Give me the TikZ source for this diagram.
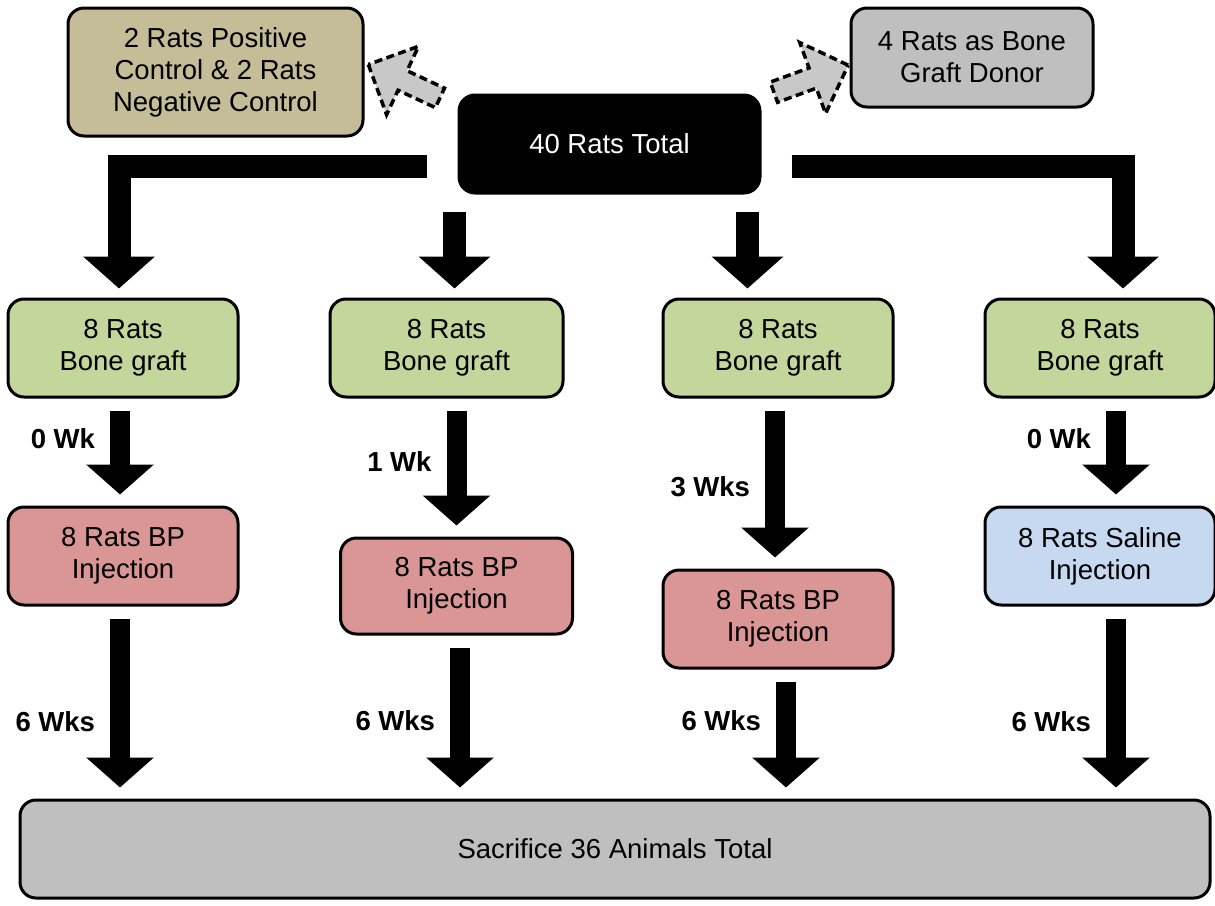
\documentclass[tikz,border=0pt]{standalone}
\usepackage{fontspec}
\setmainfont{Liberation Sans}
\usepackage{tikz}
\usetikzlibrary{arrows.meta,shapes,positioning}
\usepackage{xcolor}
\definecolor{rattan}{HTML}{C4BD97}
\definecolor{ratgrey}{HTML}{BFBFBF}
\definecolor{ratgreen}{HTML}{C3D69B}
\definecolor{ratred}{HTML}{D99694}
\definecolor{ratblue}{HTML}{C6D9F1}
\definecolor{ratdash}{HTML}{C8C8C8}
\tikzstyle{ratbox} = [rectangle, rounded corners=16pt, draw=black, line width=3pt, align=center, inner sep=0pt, minimum width=230pt, minimum height=98pt, font=\fontsize{27.5}{32}\selectfont]
\tikzstyle{fat} = [line width=20pt, -{Triangle[width=66pt,length=30pt]}, shorten <=12pt, shorten >=11pt]
\tikzstyle{fattop} = [fat, line width=23pt, -{Triangle[width=70pt,length=32pt]}, line join=miter, shorten <=0pt, shorten >=9pt]
\tikzstyle{wk} = [font=\fontsize{27.5}{32}\selectfont\bfseries, anchor=east, inner sep=0pt, xshift=-15pt]
\tikzstyle{dasharrow} = [single arrow, draw=black, dash pattern=on 8pt off 4.5pt, line width=3.5pt, fill=ratdash, minimum height=79pt, inner sep=0pt, inner ysep=9pt, single arrow head extend=27pt]

\begin{document}
\begin{tikzpicture}[x=1pt, y=-1pt]
    \useasboundingbox (0,0) rectangle (1215,905);

    % Top row
    \node[ratbox, fill=black, text=white, minimum width=301pt, text depth=-10pt] (total) at (609.5,144) {40 Rats Total};
    \node[ratbox, fill=rattan, minimum width=295pt, minimum height=128pt] (ctrl) at (215.5,72) {2 Rats Positive\\Control \& 2 Rats\\Negative Control};
    \node[ratbox, fill=ratgrey, minimum width=242pt, minimum height=99pt] (donor) at (972,57.5) {4 Rats as Bone\\Graft Donor};
    \node[dasharrow, rotate=155] (toctrl) at (409,83.5) {};
    \node[dasharrow, rotate=20] (todonor) at (806,80.5) {};

    % Bone graft row
    \node[ratbox, fill=ratgreen] (g1) at (123,348) {8 Rats\\Bone graft};
    \node[ratbox, fill=ratgreen, minimum width=233pt] (g2) at (446.5,348) {8 Rats\\Bone graft};
    \node[ratbox, fill=ratgreen] (g3) at (778,348) {8 Rats\\Bone graft};
    \node[ratbox, fill=ratgreen] (g4) at (1100,348) {8 Rats\\Bone graft};

    % Injection row
    \node[ratbox, fill=ratred] (r1) at (123,556) {8 Rats BP\\Injection};
    \node[ratbox, fill=ratred, minimum width=232pt, minimum height=96pt] (r2) at (456.5,586) {8 Rats BP\\Injection};
    \node[ratbox, fill=ratred] (r3) at (778,619) {8 Rats BP\\Injection};
    \node[ratbox, fill=ratblue] (b4) at (1100,556) {8 Rats Saline\\Injection};

    % Bottom
    \node[ratbox, fill=ratgrey, minimum width=1190pt] (sac) at (615,849) {Sacrifice 36 Animals Total};

    % Split of the 40 rats
    \draw[fattop] ([xshift=-31pt,yshift=-22pt]total.west) -| ([xshift=-4pt]g1.north);
    \draw[fattop, shorten <=17pt] ([xshift=-155pt]total.south) -- ([xshift=-155pt]total.south |- g2.north);
    \draw[fattop, shorten <=17pt] ([xshift=138pt]total.south) -- ([xshift=138pt]total.south |- g3.north);
    \draw[fattop] ([xshift=30pt,yshift=-22pt]total.east) -| ([xshift=23pt]g4.north);

    % Graft to injection
    \draw[fat] ([xshift=-3pt]g1.south) -- node[wk, pos=.38] {0 Wk} ([xshift=-3pt]r1.north);
    \draw[fat] ([xshift=10pt]g2.south) -- node[wk, pos=.46] {1 Wk} ([xshift=10pt]g2.south |- r2.north);
    \draw[fat] ([xshift=-3pt]g3.south) -- node[wk, pos=.52] {3 Wks} ([xshift=-3pt]r3.north);
    \draw[fat] ([xshift=16pt]g4.south) -- node[wk, pos=.38] {0 Wk} ([xshift=16pt]b4.north);

    % Injection to sacrifice
    \draw[fat] ([xshift=-3pt]r1.south) -- node[wk, pos=.6] {6 Wks} ([xshift=-3pt]r1.south |- sac.north);
    \draw[fat] ([xshift=3.5pt]r2.south) -- node[wk, pos=.52] {6 Wks} ([xshift=3.5pt]r2.south |- sac.north);
    \draw[fat] ([xshift=8pt]r3.south) -- node[wk, pos=.4] {6 Wks} ([xshift=8pt]r3.south |- sac.north);
    \draw[fat] ([xshift=16pt]b4.south) -- node[wk, pos=.6] {6 Wks} ([xshift=16pt]b4.south |- sac.north);
\end{tikzpicture}
\end{document}
